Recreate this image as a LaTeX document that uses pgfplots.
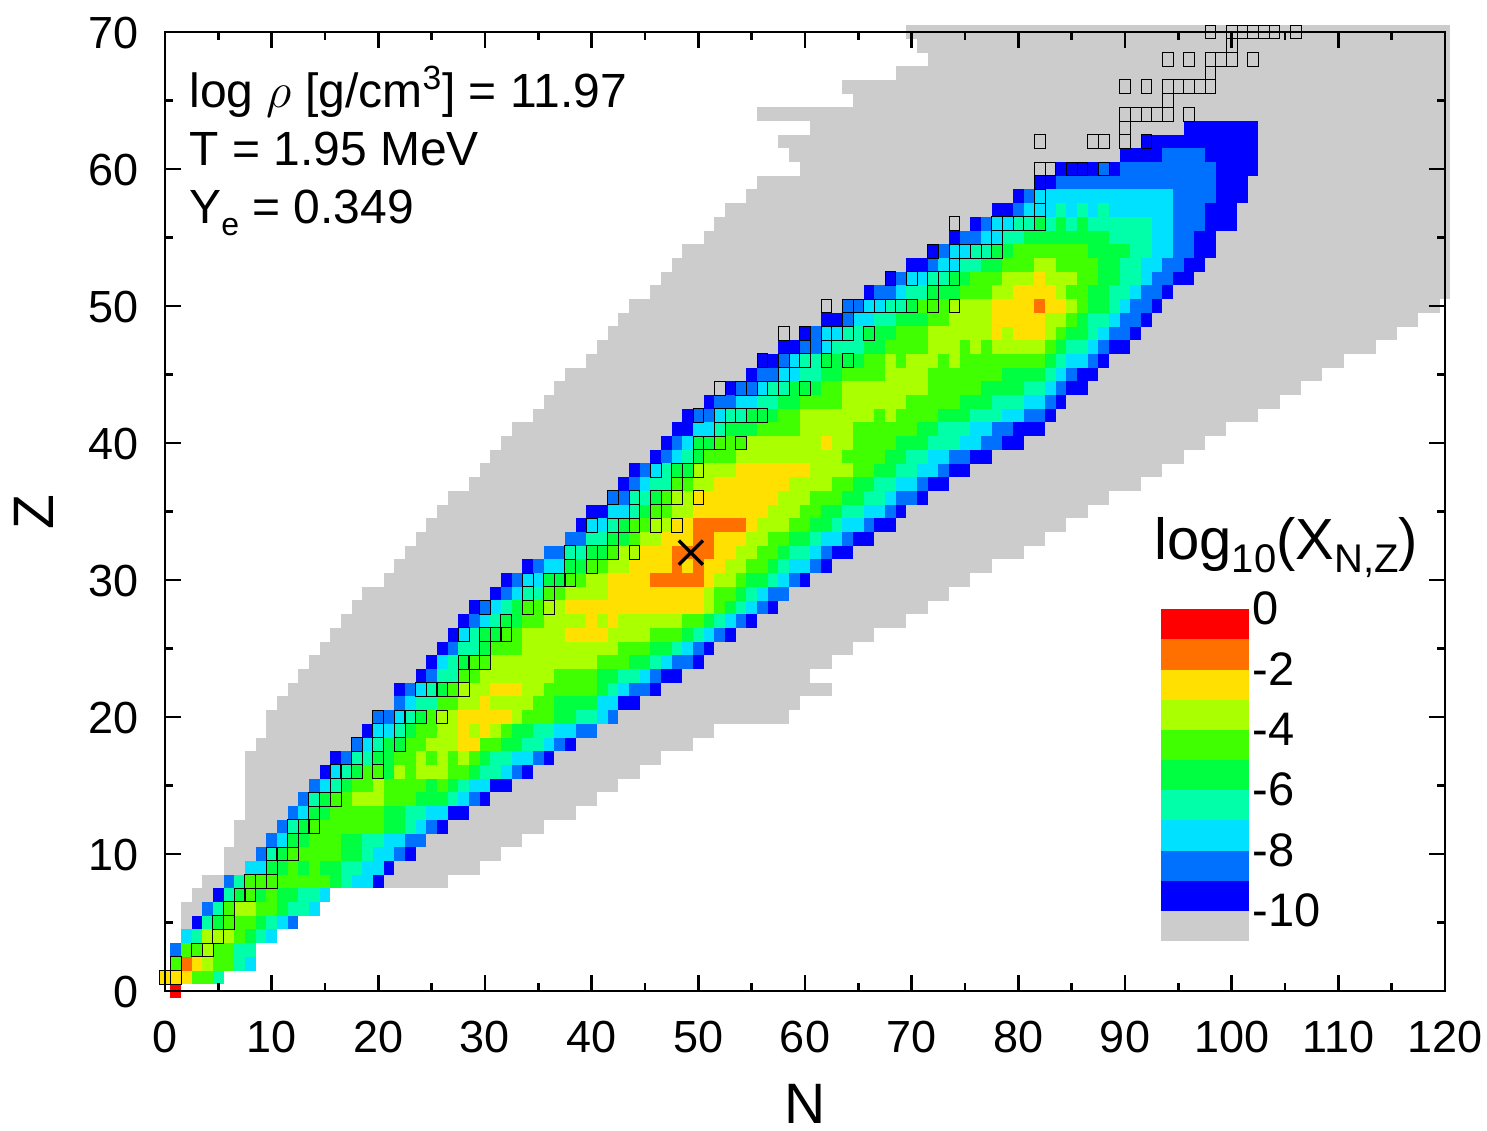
\documentclass[border=0pt]{standalone}
\usepackage{fontspec}
\setmainfont{Liberation Sans}
\usepackage{pgfplots}
\usepackage{pgfplotstable}
\pgfplotsset{compat=1.18}
\definecolor{cg}{HTML}{CCCCCC}
\definecolor{c1}{HTML}{0000FF}
\definecolor{c2}{HTML}{0070FF}
\definecolor{c3}{HTML}{00E0FF}
\definecolor{c4}{HTML}{00FFA8}
\definecolor{c5}{HTML}{00FF40}
\definecolor{c6}{HTML}{40FF00}
\definecolor{c7}{HTML}{AAFF00}
\definecolor{c8}{HTML}{FFE000}
\definecolor{c9}{HTML}{FF7000}
\definecolor{c10}{HTML}{FF0000}
\pgfplotstableread{
z a b
5 2 3
6 2 3
7 3 4
8 4 26
9 6 29
10 6 31
11 7 33
12 7 35
13 8 38
14 8 40
15 8 42
16 8 44
17 8 46
18 9 49
19 10 51
20 10 58
21 11 59
22 12 62
23 13 60
24 14 62
25 15 64
26 16 66
27 17 69
28 18 71
29 19 73
30 21 75
31 22 77
32 23 80
33 24 82
34 25 84
35 26 86
36 27 88
37 29 91
38 30 93
39 31 95
40 32 97
41 33 99
42 35 102
43 36 104
44 37 106
45 38 108
46 40 110
47 41 113
48 42 115
49 43 117
50 44 119
51 46 120
52 47 120
53 48 120
54 49 120
55 51 120
56 52 120
57 53 120
58 55 120
59 56 120
60 60 120
61 59 120
62 58 120
63 61 120
64 56 120
65 65 120
66 64 120
67 69 120
68 72 120
69 71 120
70 70 120
}\graytable
\pgfplotstableread[row sep=\\]{
z a b c\\
0 1 1 10\\
1 0 2 8\\ 1 3 4 6\\ 1 5 5 4\\
2 1 1 6\\ 2 2 2 9\\ 2 3 3 8\\ 2 4 4 7\\ 2 5 6 6\\ 2 7 7 4\\ 2 8 8 3\\
3 1 1 2\\ 3 2 3 6\\ 3 4 4 7\\ 3 5 6 6\\ 3 7 8 4\\
4 2 2 3\\ 4 3 3 4\\ 4 4 6 7\\ 4 7 7 6\\ 4 8 8 5\\ 4 9 9 4\\ 4 10 10 3\\
5 3 3 1\\ 5 4 4 4\\ 5 5 5 5\\ 5 6 8 6\\ 5 9 9 5\\ 5 10 10 4\\ 5 11 11 3\\ 5 12 12 2\\
6 4 4 2\\ 6 5 5 4\\ 6 6 6 6\\ 6 7 8 7\\ 6 9 10 6\\ 6 11 11 5\\ 6 12 13 4\\ 6 14 14 3\\
7 5 5 1\\ 7 6 6 4\\ 7 7 7 5\\ 7 8 8 6\\ 7 9 9 5\\ 7 10 10 6\\ 7 11 12 5\\ 7 13 14 4\\ 7 15 15 3\\
8 6 6 2\\ 8 7 7 4\\ 8 8 15 6\\ 8 16 16 5\\ 8 17 17 4\\ 8 18 19 3\\ 8 20 20 1\\
9 8 9 3\\ 9 10 11 5\\ 9 12 12 6\\ 9 13 13 5\\ 9 14 14 6\\ 9 15 16 5\\ 9 17 18 4\\ 9 19 20 3\\ 9 21 21 1\\
10 9 9 2\\ 10 10 10 4\\ 10 11 11 5\\ 10 12 16 6\\ 10 17 18 5\\ 10 19 19 4\\ 10 20 21 3\\ 10 22 22 2\\ 10 23 23 1\\
11 10 10 2\\ 11 11 11 3\\ 11 12 13 5\\ 11 14 16 6\\ 11 17 18 5\\ 11 19 20 4\\ 11 21 22 3\\ 11 23 24 2\\
12 11 11 2\\ 12 12 12 4\\ 12 13 13 5\\ 12 14 20 6\\ 12 21 22 5\\ 12 23 23 4\\ 12 24 24 3\\ 12 25 25 2\\ 12 26 26 1\\
13 12 12 2\\ 13 13 13 3\\ 13 14 15 5\\ 13 16 20 6\\ 13 21 22 5\\ 13 23 24 4\\ 13 25 26 3\\ 13 27 28 1\\
14 13 13 2\\ 14 14 14 4\\ 14 15 15 5\\ 14 16 17 6\\ 14 18 20 7\\ 14 21 23 6\\ 14 24 26 5\\ 14 27 27 4\\ 14 28 28 3\\ 14 29 29 2\\ 14 30 30 1\\
15 14 14 2\\ 15 15 15 3\\ 15 16 16 4\\ 15 17 17 5\\ 15 18 19 6\\ 15 20 20 7\\ 15 21 24 6\\ 15 25 25 5\\ 15 26 26 6\\ 15 27 27 5\\ 15 28 28 4\\ 15 29 30 3\\ 15 31 32 1\\
16 15 15 1\\ 16 16 16 3\\ 16 17 17 4\\ 16 18 18 5\\ 16 19 20 6\\ 16 21 21 5\\ 16 22 22 7\\ 16 23 23 6\\ 16 24 26 7\\ 16 27 28 6\\ 16 29 29 5\\ 16 30 31 4\\ 16 32 32 3\\ 16 33 33 2\\ 16 34 34 1\\
17 16 16 1\\ 17 17 17 2\\ 17 18 19 4\\ 17 20 21 5\\ 17 22 23 6\\ 17 24 24 7\\ 17 25 25 6\\ 17 26 26 7\\ 17 27 27 6\\ 17 28 28 7\\ 17 29 29 6\\ 17 30 30 5\\ 17 31 32 4\\ 17 33 34 3\\ 17 35 35 2\\ 17 36 36 1\\
18 18 18 2\\ 18 19 19 3\\ 18 20 20 4\\ 18 21 22 5\\ 18 23 24 6\\ 18 25 27 7\\ 18 28 29 8\\ 18 30 31 6\\ 18 32 33 5\\ 18 34 35 4\\ 18 36 36 3\\ 18 37 37 2\\ 18 38 38 1\\
19 19 19 1\\ 19 20 21 3\\ 19 22 22 4\\ 19 23 23 5\\ 19 24 25 6\\ 19 26 27 7\\ 19 28 28 8\\ 19 29 29 7\\ 19 30 30 8\\ 19 31 31 7\\ 19 32 32 6\\ 19 33 34 5\\ 19 35 36 4\\ 19 37 38 3\\ 19 39 40 2\\
20 20 21 2\\ 20 22 22 3\\ 20 23 23 4\\ 20 24 24 5\\ 20 25 25 6\\ 20 26 27 7\\ 20 28 32 8\\ 20 33 33 7\\ 20 34 36 6\\ 20 37 38 5\\ 20 39 40 4\\ 20 41 41 3\\ 20 42 42 2\\
21 22 22 2\\ 21 23 23 3\\ 21 24 25 4\\ 21 26 27 6\\ 21 28 29 7\\ 21 30 30 8\\ 21 31 34 7\\ 21 35 36 6\\ 21 37 40 5\\ 21 41 42 3\\ 21 43 44 1\\
22 22 22 1\\ 22 23 23 2\\ 22 24 24 3\\ 22 25 25 4\\ 22 26 26 5\\ 22 27 27 6\\ 22 28 30 7\\ 22 31 33 8\\ 22 34 35 7\\ 22 36 40 6\\ 22 41 41 5\\ 22 42 42 4\\ 22 43 43 3\\ 22 44 45 2\\ 22 46 46 1\\
23 24 24 1\\ 23 25 25 2\\ 23 26 27 4\\ 23 28 29 6\\ 23 30 36 7\\ 23 37 40 6\\ 23 41 42 5\\ 23 43 44 4\\ 23 45 45 3\\ 23 46 46 2\\ 23 47 48 1\\
24 25 25 1\\ 24 26 26 3\\ 24 27 27 4\\ 24 28 28 5\\ 24 29 30 6\\ 24 31 40 7\\ 24 41 43 6\\ 24 44 45 5\\ 24 46 46 4\\ 24 47 47 3\\ 24 48 49 2\\ 24 50 50 1\\
25 26 26 1\\ 25 27 27 2\\ 25 28 29 4\\ 25 30 30 5\\ 25 31 33 6\\ 25 34 42 7\\ 25 43 45 6\\ 25 46 47 5\\ 25 48 48 4\\ 25 49 49 3\\ 25 50 50 2\\ 25 51 51 1\\
26 27 27 1\\ 26 28 28 3\\ 26 29 29 4\\ 26 30 31 5\\ 26 32 33 6\\ 26 34 37 7\\ 26 38 41 8\\ 26 42 45 7\\ 26 46 48 6\\ 26 49 49 5\\ 26 50 50 4\\ 26 51 51 3\\ 26 52 52 2\\ 26 53 53 1\\
27 28 28 1\\ 27 29 29 2\\ 27 30 30 3\\ 27 31 31 4\\ 27 32 33 5\\ 27 34 35 6\\ 27 36 39 7\\ 27 40 40 8\\ 27 41 41 7\\ 27 42 42 8\\ 27 43 48 7\\ 27 49 50 6\\ 27 51 51 5\\ 27 52 52 4\\ 27 53 53 3\\ 27 54 54 2\\ 27 55 55 1\\
28 29 29 1\\ 28 30 30 2\\ 28 31 31 3\\ 28 32 32 4\\ 28 33 33 5\\ 28 34 35 6\\ 28 36 37 7\\ 28 38 50 8\\ 28 51 51 7\\ 28 52 52 6\\ 28 53 53 5\\ 28 54 54 4\\ 28 55 55 3\\ 28 56 56 2\\ 28 57 57 1\\
29 31 31 1\\ 29 32 32 2\\ 29 33 33 3\\ 29 34 35 4\\ 29 36 37 6\\ 29 38 41 7\\ 29 42 50 8\\ 29 51 51 7\\ 29 52 53 6\\ 29 54 54 5\\ 29 55 55 4\\ 29 56 56 3\\ 29 57 58 2\\
30 32 32 1\\ 30 33 33 2\\ 30 34 35 3\\ 30 36 37 5\\ 30 38 39 6\\ 30 40 41 7\\ 30 42 45 8\\ 30 46 50 9\\ 30 51 51 8\\ 30 52 53 7\\ 30 54 54 6\\ 30 55 56 5\\ 30 57 57 4\\ 30 58 58 3\\ 30 59 59 2\\ 30 60 60 1\\
31 34 34 1\\ 31 35 35 2\\ 31 36 37 3\\ 31 38 39 5\\ 31 40 41 6\\ 31 42 43 7\\ 31 44 47 8\\ 31 48 48 9\\ 31 49 49 8\\ 31 50 50 9\\ 31 51 52 8\\ 31 53 54 7\\ 31 55 56 6\\ 31 57 57 5\\ 31 58 58 4\\ 31 59 60 3\\ 31 61 61 2\\ 31 62 62 1\\
32 36 37 2\\ 32 38 39 4\\ 32 40 41 5\\ 32 42 42 6\\ 32 43 44 7\\ 32 45 47 8\\ 32 48 51 9\\ 32 52 53 8\\ 32 54 55 7\\ 32 56 57 6\\ 32 58 58 5\\ 32 59 60 4\\ 32 61 61 3\\ 32 62 62 2\\ 32 63 64 1\\
33 38 39 2\\ 33 40 41 4\\ 33 42 43 5\\ 33 44 44 6\\ 33 45 46 7\\ 33 47 49 8\\ 33 50 51 9\\ 33 52 54 8\\ 33 55 56 7\\ 33 57 58 6\\ 33 59 60 5\\ 33 61 61 4\\ 33 62 63 3\\ 33 64 64 2\\ 33 65 66 1\\
34 39 39 1\\ 34 40 41 3\\ 34 42 42 4\\ 34 43 43 5\\ 34 44 45 6\\ 34 46 47 7\\ 34 48 49 8\\ 34 50 54 9\\ 34 55 55 8\\ 34 56 58 7\\ 34 59 60 6\\ 34 61 62 5\\ 34 63 63 4\\ 34 64 65 3\\ 34 66 66 2\\ 34 67 68 1\\
35 40 41 1\\ 35 42 43 3\\ 35 44 44 4\\ 35 45 45 5\\ 35 46 47 6\\ 35 48 49 7\\ 35 50 56 8\\ 35 57 59 7\\ 35 60 61 6\\ 35 62 63 5\\ 35 64 65 4\\ 35 66 67 3\\ 35 68 68 2\\ 35 69 69 1\\
36 42 43 2\\ 36 44 45 4\\ 36 46 46 5\\ 36 47 47 6\\ 36 48 49 7\\ 36 50 57 8\\ 36 58 60 7\\ 36 61 63 6\\ 36 64 65 5\\ 36 66 67 4\\ 36 68 68 3\\ 36 69 70 2\\ 36 71 71 1\\
37 43 43 1\\ 37 44 44 2\\ 37 45 45 3\\ 37 46 47 4\\ 37 48 49 6\\ 37 50 51 7\\ 37 52 58 8\\ 37 59 62 7\\ 37 63 64 6\\ 37 65 66 5\\ 37 67 68 4\\ 37 69 70 3\\ 37 71 71 2\\ 37 72 73 1\\
38 44 44 1\\ 38 45 45 2\\ 38 46 46 3\\ 38 47 47 4\\ 38 48 49 5\\ 38 50 53 7\\ 38 54 60 8\\ 38 61 64 7\\ 38 65 66 6\\ 38 67 68 5\\ 38 69 70 4\\ 38 71 72 3\\ 38 73 73 2\\ 38 74 75 1\\
39 46 46 1\\ 39 47 47 2\\ 39 48 48 3\\ 39 49 49 4\\ 39 50 50 5\\ 39 51 53 6\\ 39 54 63 7\\ 39 64 67 6\\ 39 68 69 5\\ 39 70 71 4\\ 39 72 73 3\\ 39 74 75 2\\ 39 76 77 1\\
40 47 47 1\\ 40 48 48 2\\ 40 49 49 3\\ 40 50 51 5\\ 40 52 54 6\\ 40 55 61 7\\ 40 62 62 8\\ 40 63 64 7\\ 40 65 68 6\\ 40 69 71 5\\ 40 72 74 4\\ 40 75 76 3\\ 40 77 78 2\\ 40 79 80 1\\
41 48 49 1\\ 41 50 51 3\\ 41 52 52 4\\ 41 53 55 5\\ 41 56 59 6\\ 41 60 64 7\\ 41 65 70 6\\ 41 71 72 5\\ 41 73 75 4\\ 41 76 77 3\\ 41 78 79 2\\ 41 80 82 1\\
42 49 49 1\\ 42 50 51 2\\ 42 52 52 3\\ 42 53 54 4\\ 42 55 57 5\\ 42 58 59 6\\ 42 60 66 7\\ 42 67 67 6\\ 42 68 68 7\\ 42 69 72 6\\ 42 73 75 5\\ 42 76 78 4\\ 42 79 80 3\\ 42 81 82 2\\ 42 83 83 1\\
43 51 51 1\\ 43 52 53 2\\ 43 54 55 3\\ 43 56 57 4\\ 43 58 59 5\\ 43 60 63 6\\ 43 64 69 7\\ 43 70 74 6\\ 43 75 77 5\\ 43 78 80 4\\ 43 81 82 3\\ 43 83 83 2\\ 43 84 84 1\\
44 53 53 1\\ 44 54 55 2\\ 44 56 56 3\\ 44 57 58 4\\ 44 59 61 5\\ 44 62 63 6\\ 44 64 71 7\\ 44 72 76 6\\ 44 77 80 5\\ 44 81 82 4\\ 44 83 83 3\\ 44 84 84 2\\ 44 85 86 1\\
45 55 55 1\\ 45 56 57 2\\ 45 58 59 3\\ 45 60 61 4\\ 45 62 63 5\\ 45 64 67 6\\ 45 68 71 7\\ 45 72 78 6\\ 45 79 82 5\\ 45 83 83 4\\ 45 84 84 3\\ 45 85 85 2\\ 45 86 87 1\\
46 56 57 1\\ 46 58 58 2\\ 46 59 59 3\\ 46 60 61 4\\ 46 62 65 5\\ 46 66 67 6\\ 46 68 68 7\\ 46 69 69 6\\ 46 70 72 7\\ 46 73 73 6\\ 46 74 74 7\\ 46 75 82 6\\ 46 83 83 5\\ 46 84 84 4\\ 46 85 86 3\\ 46 87 87 2\\ 46 88 88 1\\
47 58 59 1\\ 47 60 61 2\\ 47 62 62 3\\ 47 63 65 4\\ 47 66 67 5\\ 47 68 71 6\\ 47 72 74 7\\ 47 75 75 6\\ 47 76 76 7\\ 47 77 77 6\\ 47 78 82 7\\ 47 83 83 6\\ 47 84 84 5\\ 47 85 86 4\\ 47 87 87 3\\ 47 88 88 2\\ 47 89 90 1\\
48 60 60 1\\ 48 61 61 2\\ 48 62 63 3\\ 48 64 65 4\\ 48 66 68 5\\ 48 69 71 6\\ 48 72 77 7\\ 48 78 78 8\\ 48 79 79 7\\ 48 80 82 8\\ 48 83 83 7\\ 48 84 84 6\\ 48 85 86 5\\ 48 87 87 4\\ 48 88 88 3\\ 48 89 90 2\\ 48 91 91 1\\
49 62 63 1\\ 49 64 64 2\\ 49 65 66 3\\ 49 67 68 4\\ 49 69 71 5\\ 49 72 73 6\\ 49 74 77 7\\ 49 78 82 8\\ 49 83 84 7\\ 49 85 85 6\\ 49 86 86 5\\ 49 87 88 4\\ 49 89 89 3\\ 49 90 91 2\\ 49 92 92 1\\
50 64 65 2\\ 50 66 67 3\\ 50 68 69 4\\ 50 70 70 5\\ 50 71 73 6\\ 50 74 77 7\\ 50 78 81 8\\ 50 82 82 9\\ 50 83 84 8\\ 50 85 85 7\\ 50 86 86 6\\ 50 87 88 5\\ 50 89 89 4\\ 50 90 90 3\\ 50 91 92 2\\ 50 93 93 1\\
51 66 66 1\\ 51 67 68 2\\ 51 69 69 3\\ 51 70 71 4\\ 51 72 74 5\\ 51 75 77 6\\ 51 78 79 7\\ 51 80 83 8\\ 51 84 84 7\\ 51 85 86 6\\ 51 87 88 5\\ 51 89 90 4\\ 51 91 91 3\\ 51 92 93 2\\ 51 94 94 1\\
52 68 68 1\\ 52 69 69 2\\ 52 70 71 3\\ 52 72 73 4\\ 52 74 75 5\\ 52 76 78 6\\ 52 79 81 7\\ 52 82 82 8\\ 52 83 85 7\\ 52 86 87 6\\ 52 88 89 5\\ 52 90 91 4\\ 52 92 92 3\\ 52 93 94 2\\ 52 95 96 1\\
53 70 71 1\\ 53 72 72 2\\ 53 73 74 3\\ 53 75 76 4\\ 53 77 78 5\\ 53 79 81 6\\ 53 82 83 7\\ 53 84 87 6\\ 53 88 89 5\\ 53 90 91 4\\ 53 92 93 3\\ 53 94 95 2\\ 53 96 97 1\\
54 72 72 1\\ 54 73 73 2\\ 54 74 75 3\\ 54 76 77 4\\ 54 78 79 5\\ 54 80 86 6\\ 54 87 90 5\\ 54 91 92 4\\ 54 93 94 3\\ 54 95 96 2\\ 54 97 98 1\\
55 74 74 1\\ 55 75 76 2\\ 55 77 78 3\\ 55 79 80 4\\ 55 81 88 5\\ 55 89 92 4\\ 55 93 94 3\\ 55 95 96 2\\ 55 97 98 1\\
56 76 76 1\\ 56 77 77 2\\ 56 78 79 3\\ 56 80 81 4\\ 56 82 82 5\\ 56 83 83 4\\ 56 84 84 5\\ 56 85 85 4\\ 56 86 86 5\\ 56 87 92 4\\ 56 93 94 3\\ 56 95 97 2\\ 56 98 100 1\\
57 78 79 1\\ 57 80 80 2\\ 57 81 83 3\\ 57 84 84 4\\ 57 85 85 3\\ 57 86 86 4\\ 57 87 87 3\\ 57 88 88 4\\ 57 89 94 3\\ 57 95 97 2\\ 57 98 100 1\\
58 80 80 1\\ 58 81 81 2\\ 58 82 94 3\\ 58 95 98 2\\ 58 99 101 1\\
59 82 83 1\\ 59 84 98 2\\ 59 99 101 1\\
60 84 87 1\\ 60 88 88 2\\ 60 89 89 1\\ 60 90 98 2\\ 60 99 102 1\\
61 90 93 1\\ 61 94 97 2\\ 61 98 102 1\\
62 92 102 1\\
63 96 102 1\\
}\cells
\newcommand\band[2]{\addplot[quiver={u=\thisrow{b}-\thisrow{a}+1, v=0}, line width=6.9pt, line cap=butt, color=#2, forget plot] table[x expr={\thisrow{c}==#1 ? \thisrow{a}-0.5 : nan}, y=z] {\cells};}
\newcommand\lbar[3]{\fill[#1] (580.5pt,#2pt) rectangle (624.5pt,#3pt);}
\begin{document}
\begin{tikzpicture}
\useasboundingbox (0,0) rectangle (743.5pt,565pt);
\begin{axis}[
  at={(82.5pt,69.5pt)}, anchor=south west,
  scale only axis, width=640pt, height=479.5pt,
  xmin=0, xmax=120, ymin=0, ymax=70,
  clip=false, axis on top,
  axis line style={line width=1.3pt},
  every tick/.style={line width=1.2pt, black},
  tick align=inside,
  major tick length=8pt, minor tick length=4pt,
  xtick={0,10,...,120}, ytick={0,10,...,70},
  minor xtick={5,15,...,115}, minor ytick={5,15,...,65},
  /pgf/number format/assume math mode=true,
  tick label style={font=\fontsize{22.5pt}{25pt}\selectfont},
  xticklabel shift=11.5pt, yticklabel shift=9.5pt,
  yticklabel style={yshift=-0.5pt},
  xlabel={N}, ylabel={Z},
  xlabel style={font=\fontsize{28.5pt}{30pt}\selectfont, inner sep=0pt, at={(axis description cs:0.5,-0.118)}, anchor=center},
  ylabel style={font=\fontsize{28.5pt}{30pt}\selectfont, inner sep=0pt, at={(axis description cs:-0.1024,0.4995)}, anchor=center},
]
\addplot[quiver={u=\thisrow{b}-\thisrow{a}+1, v=0}, line width=6.9pt, line cap=butt, color=cg, forget plot] table[x expr=\thisrow{a}-0.5, y=z] {\graytable};
\band{1}{c1}
\band{2}{c2}
\band{3}{c3}
\band{4}{c4}
\band{5}{c5}
\band{6}{c6}
\band{7}{c7}
\band{8}{c8}
\band{9}{c9}
\band{10}{c10}
\addplot[only marks, mark=square, mark size=2.67pt, mark options={yscale=1.284, line width=0.5pt, draw=black, fill=none}, forget plot] coordinates {
(0,1)(1,1)(1,2)(3,3)(4,3)(5,4)(5,5)(6,5)(6,6)(7,7)(8,7)(8,8)(9,8)(10,8)(10,9)(10,10)(11,10)(12,10)(12,11)(12,12)(13,12)(14,12)(14,13)(14,14)(15,14)(16,14)(16,15)
(16,16)(17,16)(18,16)(20,16)(18,17)(20,17)(18,18)(20,18)(22,18)(20,19)(22,19)(20,20)(22,20)(23,20)(24,20)(26,20)
(24,22)(25,22)(26,22)(27,22)(28,22)(28,23)(28,24)(29,24)(30,24)(30,25)(28,26)(30,26)(31,26)(32,26)(32,27)(30,28)(34,28)(36,28)(34,29)(36,29)(34,30)(36,30)(37,30)(38,30)
(38,31)(40,31)(38,32)(40,32)(41,32)(42,32)(44,32)(42,33)(40,34)(42,34)(43,34)(44,34)(46,34)(48,34)(44,35)(46,35)(42,36)(44,36)(46,36)(47,36)(48,36)(50,36)(48,37)
(46,38)(48,38)(49,38)(50,38)(50,39)(50,40)(51,40)(52,40)(54,40)(52,41)(50,42)(52,42)(53,42)(54,42)(55,42)(56,42)
(52,44)(54,44)(55,44)(56,44)(57,44)(58,44)(60,44)(58,45)(56,46)(58,46)(59,46)(60,46)(62,46)(64,46)(60,47)(62,47)(58,48)(60,48)(62,48)(63,48)(64,48)(66,48)(64,49)
(62,50)(64,50)(65,50)(66,50)(67,50)(68,50)(69,50)(70,50)(72,50)(74,50)(72,51)(68,52)(70,52)(72,52)(73,52)(74,52)(74,53)(72,54)(74,54)(75,54)(76,54)(77,54)(78,54)(78,55)
(74,56)(78,56)(79,56)(80,56)(81,56)(82,56)(82,57)(82,58)(82,59)(82,60)(83,60)(85,60)(86,60)(88,60)(82,62)(87,62)(88,62)(90,62)(92,62)
(90,63)(90,64)(91,64)(92,64)(93,64)(94,64)(96,64)(94,65)(90,66)(92,66)(94,66)(95,66)(96,66)(97,66)(98,66)(98,67)(94,68)(96,68)(98,68)(99,68)(100,68)(102,68)(100,69)
(98,70)(100,70)(101,70)(102,70)(103,70)(104,70)(106,70)};
\addplot[only marks, mark=x, mark size=8.5pt, mark options={line width=1.7pt, draw=black}, forget plot] coordinates {(49.3,32)};
\end{axis}
\node[anchor=base west, inner sep=0pt, font=\fontsize{24pt}{26pt}\selectfont] at (94.5pt,511pt) {log $\rho$ [g/cm\textsuperscript{3}] = 11.97};
\node[anchor=base west, inner sep=0pt, font=\fontsize{24pt}{26pt}\selectfont] at (94.5pt,482pt) {T = 1.95 MeV};
\node[anchor=base west, inner sep=0pt, font=\fontsize{24pt}{26pt}\selectfont] at (94.5pt,453pt) {Y\raisebox{-0.25em}{\fontsize{16pt}{18pt}\selectfont e} = 0.349};
\lbar{c10}{260.5}{245.5}
\lbar{c9}{245.5}{230}
\lbar{c8}{230}{215}
\lbar{c7}{215}{200}
\lbar{c6}{200}{185}
\lbar{c5}{185}{170}
\lbar{c4}{170}{155}
\lbar{c3}{155}{139.5}
\lbar{c2}{139.5}{124.5}
\lbar{c1}{124.5}{109.5}
\lbar{cg}{109.5}{94.5}
\node[anchor=base west, inner sep=0pt, font=\fontsize{29pt}{32pt}\selectfont] at (577pt,285pt) {log\raisebox{-0.22em}{\fontsize{20pt}{22pt}\selectfont 10}(X\raisebox{-0.22em}{\fontsize{20pt}{22pt}\selectfont N,Z})};
\node[anchor=base west, inner sep=0pt, font=\fontsize{23.5pt}{26pt}\selectfont] at (626pt,252.5pt) {0};
\node[anchor=base west, inner sep=0pt, font=\fontsize{23.5pt}{26pt}\selectfont] at (626pt,222pt) {-2};
\node[anchor=base west, inner sep=0pt, font=\fontsize{23.5pt}{26pt}\selectfont] at (626pt,192pt) {-4};
\node[anchor=base west, inner sep=0pt, font=\fontsize{23.5pt}{26pt}\selectfont] at (626pt,162pt) {-6};
\node[anchor=base west, inner sep=0pt, font=\fontsize{23.5pt}{26pt}\selectfont] at (626pt,131.7pt) {-8};
\node[anchor=base west, inner sep=0pt, font=\fontsize{23.5pt}{26pt}\selectfont] at (626pt,101.7pt) {-10};
\end{tikzpicture}
\end{document}
